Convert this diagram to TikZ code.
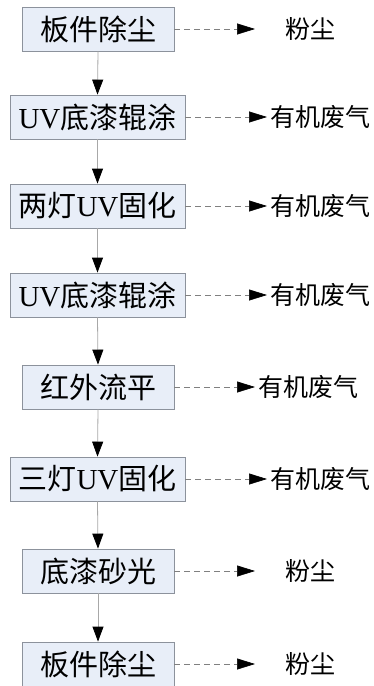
\documentclass[tikz,border=0pt]{standalone}
\usepackage{fontspec}
\setmainfont{Liberation Serif}
\newfontfamily\cjk{Noto Sans CJK SC}
\usetikzlibrary{arrows.meta}
\definecolor{boxfill}{HTML}{E8EEF8}
\definecolor{boxline}{HTML}{8C929C}
\definecolor{vline}{HTML}{A8A8A8}
\definecolor{dline}{HTML}{808080}
\begin{document}
\begin{tikzpicture}[x=1pt,y=-1pt,
  stepbox/.style={draw=boxline,fill=boxfill,line width=0.8pt,minimum height=44pt,inner sep=0pt,font=\fontsize{29}{31}\selectfont\cjk},
  shortbox/.style={stepbox,minimum width=152pt},
  longbox/.style={stepbox,minimum width=175pt},
  flow/.style={draw=vline,line width=0.8pt,-{Triangle[length=15pt,width=11pt,color=black]}},
  emit/.style={draw=dline,line width=0.6pt,dash pattern=on 6pt off 4pt,-{Triangle[length=18pt,width=11pt,color=black]}},
  outlbl/.style={font=\fontsize{25}{27}\selectfont\cjk,inner sep=0pt}]
\useasboundingbox (0,0) rectangle (374,686);
\node[shortbox] (b1) at (98,29) {板件除尘};
\node[longbox]  (b2) at (97.5,117) {{\rmfamily UV}底漆辊涂};
\node[longbox]  (b3) at (97.5,206) {两灯{\rmfamily UV}固化};
\node[longbox]  (b4) at (97.5,295) {{\rmfamily UV}底漆辊涂};
\node[shortbox] (b5) at (98,387) {红外流平};
\node[longbox]  (b6) at (97.5,479) {三灯{\rmfamily UV}固化};
\node[shortbox] (b7) at (98,571) {底漆砂光};
\node[shortbox] (b8) at (98,664) {板件除尘};
\foreach \a/\b in {b1/b2,b2/b3,b3/b4,b4/b5,b5/b6,b6/b7,b7/b8}
  \draw[flow] (\a.south) -- (\b.north);
% outputs
\coordinate (t1) at (255,29);
\coordinate (t2) at (267,117);
\coordinate (t3) at (267,206);
\coordinate (t4) at (267,295);
\coordinate (t5) at (255,387);
\coordinate (t6) at (267,479);
\coordinate (t7) at (255,571);
\coordinate (t8) at (255,664);
\node[outlbl] (o1) at (310,29) {粉尘};
\node[outlbl,anchor=west] (o2) at (270,117) {有机废气};
\node[outlbl,anchor=west] (o3) at (270,206) {有机废气};
\node[outlbl,anchor=west] (o4) at (270,295) {有机废气};
\node[outlbl,anchor=west] (o5) at (258,387) {有机废气};
\node[outlbl,anchor=west] (o6) at (270,479) {有机废气};
\node[outlbl] (o7) at (310,571) {粉尘};
\node[outlbl] (o8) at (310,664) {粉尘};
\foreach \i in {1,...,8}
  \draw[emit] (b\i.east) -- (t\i);
\end{tikzpicture}
\end{document}
